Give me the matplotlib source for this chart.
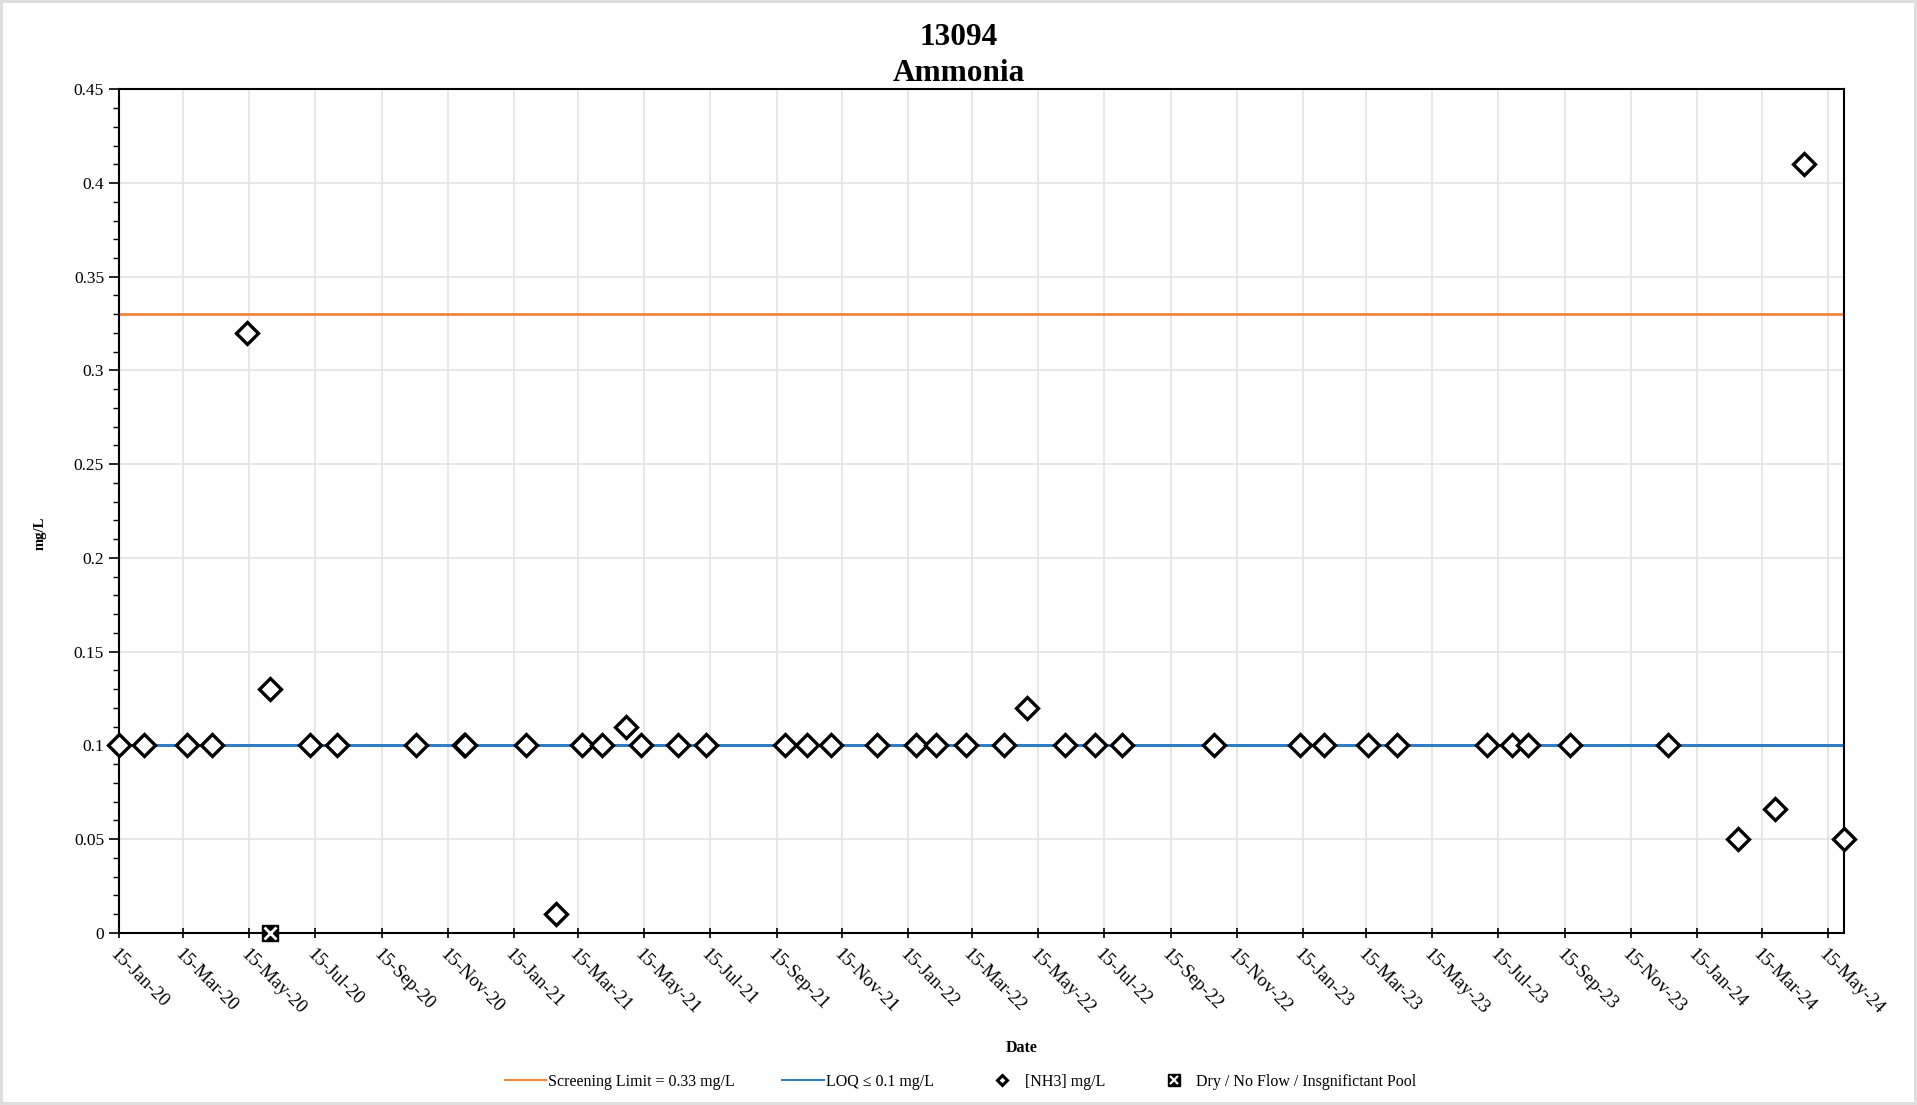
import numpy as np
import pandas as pd
import matplotlib
matplotlib.use("Agg")
import matplotlib.pyplot as plt
import matplotlib.dates as mdates
from matplotlib.lines import Line2D
from matplotlib.legend_handler import HandlerTuple
from matplotlib.ticker import MultipleLocator

# Sample dates and ammonia results (mg/L)
sample_dates = [
    "2020-01-15", "2020-02-07", "2020-03-18", "2020-04-10", "2020-05-13",
    "2020-06-03", "2020-07-10", "2020-08-04", "2020-10-16", "2020-11-30",
    "2020-12-01", "2021-01-26", "2021-02-23", "2021-03-19", "2021-04-06",
    "2021-04-29", "2021-05-13", "2021-06-16", "2021-07-12", "2021-09-23",
    "2021-10-13", "2021-11-04", "2021-12-17", "2022-01-22", "2022-02-10",
    "2022-03-09", "2022-04-14", "2022-05-05", "2022-06-09", "2022-07-07",
    "2022-08-01", "2022-10-25", "2023-01-13", "2023-02-04", "2023-03-17",
    "2023-04-12", "2023-07-05", "2023-07-28", "2023-08-12", "2023-09-20",
    "2023-12-19", "2024-02-22", "2024-03-27", "2024-04-23", "2024-05-30",
]
nh3 = [
    0.1, 0.1, 0.1, 0.1, 0.32,
    0.13, 0.1, 0.1, 0.1, 0.1,
    0.1, 0.1, 0.01, 0.1, 0.1,
    0.11, 0.1, 0.1, 0.1, 0.1,
    0.1, 0.1, 0.1, 0.1, 0.1,
    0.1, 0.1, 0.12, 0.1, 0.1,
    0.1, 0.1, 0.1, 0.1, 0.1,
    0.1, 0.1, 0.1, 0.1, 0.1,
    0.1, 0.05, 0.066, 0.41, 0.05,
]

# Visits with no sample taken
dry_dates = ["2020-06-03"]
dry_vals = [0.0]

screening_limit = 0.33
loq = 0.1
x_start, x_end = "2020-01-15", "2024-05-30"

dates = pd.to_datetime(sample_dates)
dry = pd.to_datetime(dry_dates)
x0, x1 = pd.Timestamp(x_start), pd.Timestamp(x_end)

plt.rcParams["font.family"] = ["Liberation Serif", "DejaVu Serif"]

fig = plt.figure(figsize=(19.17, 11.05), dpi=100)
fig.patch.set_edgecolor("#dedede")
fig.patch.set_linewidth(3)
ax = fig.add_axes([0.0619, 0.1558, 0.8999, 0.7634])

orange = "#F0863C"
blue = "#2F7EC6"

ax.plot([x0, x1], [screening_limit, screening_limit], color=orange, lw=2, zorder=2)
ax.plot([x0, x1], [loq, loq], color=blue, lw=2.2, zorder=2)

ax.plot(dates, nh3, linestyle="none", marker="D", ms=11, mfc="white",
        mec="black", mew=2.4, zorder=4, clip_on=False)
ax.plot(dry, dry_vals, linestyle="none", marker="s", ms=12, mfc="black",
        mec="black", zorder=5, clip_on=False)
ax.plot(dry, dry_vals, linestyle="none", marker="x", ms=8, mec="white",
        mew=2, zorder=6, clip_on=False)

ax.set_xlim(x0, x1)
ax.set_ylim(0, 0.45)

# x ticks every two months on the 15th
ax.xaxis.set_major_locator(mdates.MonthLocator(bymonth=[1, 3, 5, 7, 9, 11], bymonthday=15))
ax.xaxis.set_major_formatter(mdates.DateFormatter("%d-%b-%y"))
plt.setp(ax.get_xticklabels(), rotation=-45, ha="left", va="top",
         rotation_mode="anchor", fontsize=13.5)
ax.tick_params(axis="x", direction="inout", length=7, width=1.2, pad=6)

ax.yaxis.set_major_locator(MultipleLocator(0.05))
ax.yaxis.set_minor_locator(MultipleLocator(0.01))
ax.yaxis.set_major_formatter(plt.FuncFormatter(lambda v, p: f"{v:g}" if v else "0"))
ax.tick_params(axis="y", which="major", direction="out", length=7, width=1.2, labelsize=12.5)
ax.tick_params(axis="y", which="minor", direction="out", length=4, width=1)

ax.grid(True, which="major", color="#e3e3e3", lw=1.2)
ax.set_axisbelow(True)
for s in ax.spines.values():
    s.set_color("black")
    s.set_linewidth(1.5)

fig.text(0.5, 0.950, "13094\nAmmonia", ha="center", va="center",
         fontsize=22.5, fontweight="bold", linespacing=1.3)
fig.text(0.021, 0.517, "mg/L", rotation=90, ha="center", va="center",
         fontsize=10.5, fontweight="bold")
fig.text(0.533, 0.052, "Date", ha="center", va="center",
         fontsize=11.5, fontweight="bold")

# legend along the bottom
handles = [
    Line2D([], [], color=orange, lw=1.5),
    Line2D([], [], color=blue, lw=1.5),
    Line2D([], [], linestyle="none", marker="D", ms=5, mfc="white", mec="black", mew=2.2),
    (Line2D([], [], linestyle="none", marker="s", ms=9, mfc="black", mec="black"),
     Line2D([], [], linestyle="none", marker="x", ms=6, mec="white", mew=1.6)),
]
labels = ["Screening Limit = 0.33 mg/L", "LOQ \u2264 0.1 mg/L", "[NH3] mg/L",
          "Dry / No Flow / Insgnifictant Pool"]
fig.legend(handles, labels, loc="center", bbox_to_anchor=(0.501, 0.021), ncol=4,
           frameon=False, fontsize=11.5, handlelength=2.6, handletextpad=0.1,
           columnspacing=3.0, handler_map={tuple: HandlerTuple(ndivide=1)})

fig.savefig("out.png", dpi=100)
